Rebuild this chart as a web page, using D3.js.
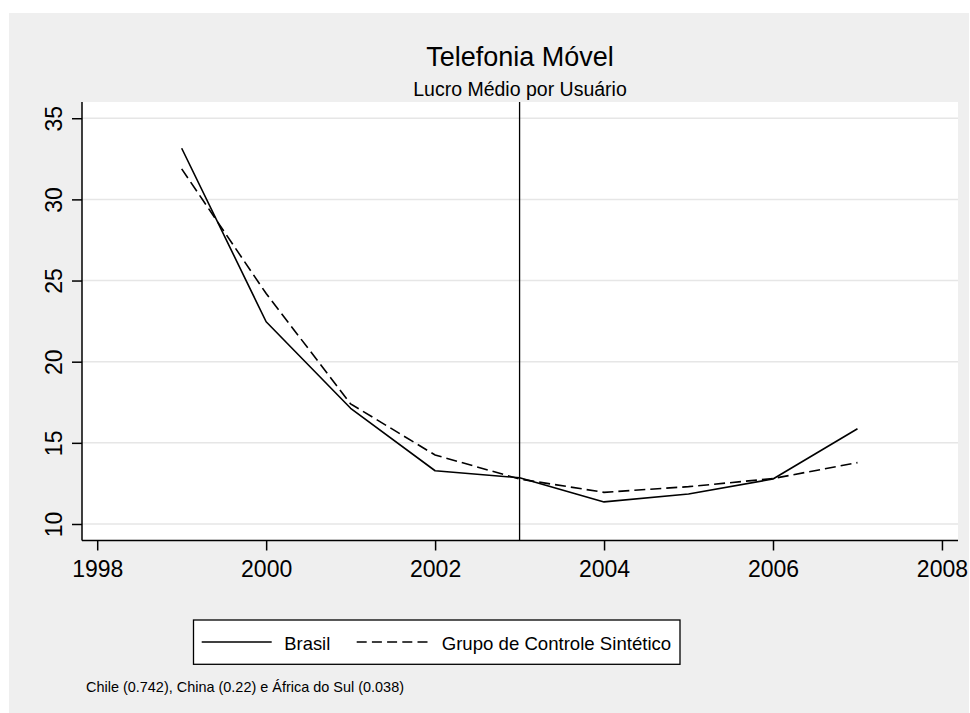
<!DOCTYPE html>
<html><head><meta charset="utf-8">
<script src="https://cdn.jsdelivr.net/npm/d3@7"></script>
<style>
html,body{margin:0;padding:0;background:#fff;}
svg{display:block;font-family:"Liberation Sans",Arial,sans-serif;}
</style></head>
<body>
<svg id="c" width="970" height="713"></svg>
<script>
const years = [1999, 2000, 2001, 2002, 2003, 2004, 2005, 2006, 2007];
const brasil = [33.15, 22.46, 17.13, 13.28, 12.85, 11.36, 11.85, 12.77, 15.87];
const sintetico = [31.88, 24.2, 17.4, 14.25, 12.77, 11.95, 12.3, 12.8, 13.78];
const xTicks = [1998, 2000, 2002, 2004, 2006, 2008];
const yTicks = [10, 15, 20, 25, 30, 35];
const treatmentYear = 2003;
const title = "Telefonia Móvel";
const subtitle = "Lucro Médio por Usuário";
const legendLabels = ["Brasil", "Grupo de Controle Sintético"];
const note = "Chile (0.742), China (0.22) e África do Sul (0.038)";

const svg = d3.select("#c");
const L = 82, R = 958, T = 102, B = 540.5;

svg.append("rect").attr("x", 9).attr("y", 13).attr("width", 960).attr("height", 700).attr("fill", "#efefef");
svg.append("rect").attr("x", L).attr("y", T).attr("width", R - L).attr("height", B - T).attr("fill", "#fff");

const x = d3.scaleLinear().domain([1997.82, 2008.19]).range([L, R]);
const y = d3.scaleLinear().domain([8.983, 36.0]).range([B, T]);

// gridlines
svg.append("g").selectAll("line").data(yTicks).join("line")
  .attr("x1", L).attr("x2", R).attr("y1", d => y(d)).attr("y2", d => y(d))
  .attr("stroke", "#e6e6e6").attr("stroke-width", 1.5);

// y axis
const ya = svg.append("g").attr("transform", `translate(${L},0)`)
  .call(d3.axisLeft(y).tickValues(yTicks).tickSize(10).tickSizeOuter(0).tickPadding(0));
ya.select(".domain").attr("stroke", "#000").attr("stroke-width", 1.5).attr("d", `M0,${T}V${B}`);
ya.selectAll(".tick line").attr("stroke", "#000").attr("stroke-width", 1.5);
ya.selectAll(".tick text").attr("font-size", 23).attr("fill", "#000")
  .attr("text-anchor", "middle").attr("dy", null).attr("x", null)
  .attr("transform", "translate(-20,0) rotate(-90)");

// x axis
const xa = svg.append("g").attr("transform", `translate(0,${B})`)
  .call(d3.axisBottom(x).tickValues(xTicks).tickFormat(d3.format("d")).tickSize(10).tickSizeOuter(0));
xa.select(".domain").attr("stroke", "#000").attr("stroke-width", 1.5).attr("d", `M${L},0H${R}`);
xa.selectAll(".tick line").attr("stroke", "#000").attr("stroke-width", 1.5);
xa.selectAll(".tick text").attr("font-size", 23).attr("fill", "#000").attr("dy", null).attr("y", 36);

// treatment line
svg.append("line").attr("x1", x(treatmentYear)).attr("x2", x(treatmentYear))
  .attr("y1", T).attr("y2", B).attr("stroke", "#000").attr("stroke-width", 1.3);

const line = d3.line().x((d, i) => x(years[i])).y(d => y(d));
svg.append("path").datum(brasil).attr("d", line).attr("fill", "none")
  .attr("stroke", "#000").attr("stroke-width", 1.6).attr("stroke-linejoin", "round");
svg.append("path").datum(sintetico).attr("d", line).attr("fill", "none")
  .attr("stroke", "#000").attr("stroke-width", 1.6).attr("stroke-dasharray", "11,5");

// titles
svg.append("text").attr("x", 520).attr("y", 66).attr("text-anchor", "middle")
  .attr("font-size", 27).attr("fill", "#000").text(title);
svg.append("text").attr("x", 520).attr("y", 95.5).attr("text-anchor", "middle")
  .attr("font-size", 19.5).attr("fill", "#000").text(subtitle);

// legend
const lg = svg.append("g");
lg.append("rect").attr("x", 193.5).attr("y", 620).attr("width", 486.5).attr("height", 44.3)
  .attr("fill", "#fff").attr("stroke", "#000").attr("stroke-width", 1.3);
lg.append("line").attr("x1", 201.7).attr("x2", 271.7).attr("y1", 642).attr("y2", 642)
  .attr("stroke", "#000").attr("stroke-width", 1.6);
lg.append("text").attr("x", 284.3).attr("y", 649.5).attr("font-size", 18.5).attr("fill", "#000")
  .attr("textLength", 46).attr("lengthAdjust", "spacingAndGlyphs").text(legendLabels[0]);
lg.append("line").attr("x1", 356.7).attr("x2", 428).attr("y1", 642).attr("y2", 642)
  .attr("stroke", "#000").attr("stroke-width", 1.6).attr("stroke-dasharray", "10,5.2");
lg.append("text").attr("x", 441.7).attr("y", 649.5).attr("font-size", 18.5).attr("fill", "#000")
  .attr("textLength", 229.5).attr("lengthAdjust", "spacingAndGlyphs").text(legendLabels[1]);

// note
svg.append("text").attr("x", 86).attr("y", 692).attr("font-size", 15).attr("fill", "#000")
  .attr("textLength", 318).attr("lengthAdjust", "spacingAndGlyphs").text(note);
</script>
</body></html>
